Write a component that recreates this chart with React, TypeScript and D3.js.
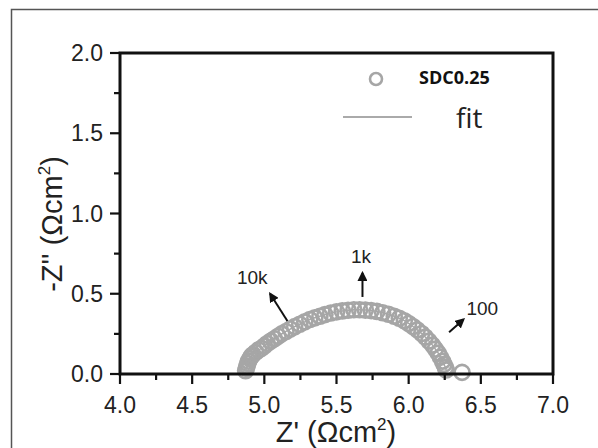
import React from "react";
import * as d3 from "d3";

const zReal = [4.87, 4.875, 4.88, 4.885, 4.89, 4.9, 4.91, 4.92, 4.94, 4.96, 4.98, 5.0, 5.02, 5.045, 5.07, 5.095, 5.12, 5.15, 5.18, 5.21, 5.245, 5.28, 5.315, 5.35, 5.385, 5.42, 5.46, 5.5, 5.54, 5.58, 5.62, 5.66, 5.7, 5.74, 5.78, 5.82, 5.86, 5.9, 5.935, 5.97, 6.0, 6.03, 6.06, 6.09, 6.115, 6.14, 6.165, 6.185, 6.205, 6.22, 6.235, 6.245, 6.255, 6.26, 6.37];
const zImag = [0.02, 0.035, 0.05, 0.065, 0.08, 0.095, 0.11, 0.12, 0.135, 0.15, 0.16, 0.175, 0.19, 0.205, 0.22, 0.235, 0.25, 0.265, 0.28, 0.295, 0.31, 0.325, 0.34, 0.35, 0.36, 0.37, 0.38, 0.387, 0.393, 0.397, 0.4, 0.4, 0.398, 0.395, 0.39, 0.382, 0.372, 0.36, 0.347, 0.332, 0.315, 0.296, 0.275, 0.252, 0.23, 0.205, 0.18, 0.155, 0.13, 0.105, 0.08, 0.06, 0.04, 0.025, 0.01];
const xTicks = [4.0, 4.5, 5.0, 5.5, 6.0, 6.5, 7.0];
const xMinor = [4.25, 4.75, 5.25, 5.75, 6.25, 6.75];
const yTicks = [0.0, 0.5, 1.0, 1.5, 2.0];
const yMinor = [0.25, 0.75, 1.25, 1.75];
const annotations = [
  { label: "10k", tx: 5.16, ty: 0.33, hx: 5.04, hy: 0.5, lx: 4.81, ly: 0.56 },
  { label: "1k", tx: 5.68, ty: 0.48, hx: 5.68, hy: 0.63, lx: 5.6, ly: 0.69 },
  { label: "100", tx: 6.28, ty: 0.26, hx: 6.38, hy: 0.34, lx: 6.4, ly: 0.37 },
];

export default function App() {
  const W = 598, H = 448;
  const left = 120, right = 553, top = 53, bottom = 374;
  const x = d3.scaleLinear().domain([4, 7]).range([left, right]);
  const y = d3.scaleLinear().domain([0, 2]).range([bottom, top]);
  const pts = zReal.map((v, i) => [v, zImag[i]] as [number, number]);
  const line = d3.line<[number, number]>().x(d => x(d[0])).y(d => y(d[1])).curve(d3.curveCatmullRom);
  const font = "'Liberation Sans', Arial, sans-serif";
  const gray = "#a6a6a6";
  return (
    <svg width={W} height={H} style={{ position: "absolute", left: 0, top: 0, background: "#fff" }}>
      <defs>
        <marker id="ah" viewBox="0 0 10 10" refX="8" refY="5" markerWidth="5" markerHeight="5" orient="auto">
          <path d="M0,0 L10,5 L0,10 z" fill="#111" />
        </marker>
      </defs>
      <rect x={0} y={0} width={W} height={H} fill="#fff" />
      <path d={`M11.5,${H} V9.5 H${W}`} fill="none" stroke="#555" strokeWidth={1.5} />
      {/* data */}
      <path d={line(pts.slice(0, pts.length - 1)) || ""} fill="none" stroke={gray} strokeWidth={1.5} />
      {pts.map((p, i) => (
        <circle key={i} cx={x(p[0])} cy={y(p[1])} r={7.5} fill="none" stroke={gray} strokeWidth={2.6} />
      ))}
      {/* axes frame */}
      <rect x={left} y={top} width={right - left} height={bottom - top} fill="none" stroke="#111" strokeWidth={3} />
      {xTicks.map(t => (
        <g key={"xt" + t}>
          <line x1={x(t)} x2={x(t)} y1={bottom} y2={bottom + 10} stroke="#111" strokeWidth={2.2} />
          <text x={x(t)} y={bottom + 39} textAnchor="middle" fontFamily={font} fontSize={23} fill="#222">{t.toFixed(1)}</text>
        </g>
      ))}
      {xMinor.map(t => (
        <line key={"xm" + t} x1={x(t)} x2={x(t)} y1={bottom} y2={bottom + 6} stroke="#111" strokeWidth={2.2} />
      ))}
      {yTicks.map(t => (
        <g key={"yt" + t}>
          <line x1={left - 10} x2={left} y1={y(t)} y2={y(t)} stroke="#111" strokeWidth={2.2} />
          <text x={left - 17} y={y(t) + 8} textAnchor="end" fontFamily={font} fontSize={23} fill="#222">{t.toFixed(1)}</text>
        </g>
      ))}
      {yMinor.map(t => (
        <line key={"ym" + t} x1={left - 6} x2={left} y1={y(t)} y2={y(t)} stroke="#111" strokeWidth={2.2} />
      ))}
      {/* axis titles */}
      <text x={336} y={442} textAnchor="middle" fontFamily={font} fontSize={29} fill="#222">
        Z' (Ωcm<tspan dy={-12} fontSize={17}>2</tspan><tspan dy={12}>)</tspan>
      </text>
      <text transform={`translate(62,224) rotate(-90)`} textAnchor="middle" fontFamily={font} fontSize={29} fill="#222">
        -Z'' (Ωcm<tspan dy={-12} fontSize={17}>2</tspan><tspan dy={12}>)</tspan>
      </text>
      {/* annotations */}
      {annotations.map(a => (
        <g key={a.label}>
          <line x1={x(a.tx)} y1={y(a.ty)} x2={x(a.hx)} y2={y(a.hy)} stroke="#111" strokeWidth={2} markerEnd="url(#ah)" />
          <text x={x(a.lx)} y={y(a.ly)} fontFamily={font} fontSize={19} fill="#222">{a.label}</text>
        </g>
      ))}
      {/* legend */}
      <circle cx={376} cy={79} r={6} fill="none" stroke={gray} strokeWidth={2.6} />
      <text x={419} y={84} fontFamily="'Open Sans', 'Liberation Sans', sans-serif" fontWeight="bold" fontSize={18} fill="#111">SDC0.25</text>
      <line x1={343} x2={412} y1={117} y2={117} stroke="#aaa" strokeWidth={2} />
      <text x={456} y={128} fontFamily="'Open Sans', 'Liberation Sans', sans-serif" fontSize={28} fill="#222">fit</text>
    </svg>
  );
}
